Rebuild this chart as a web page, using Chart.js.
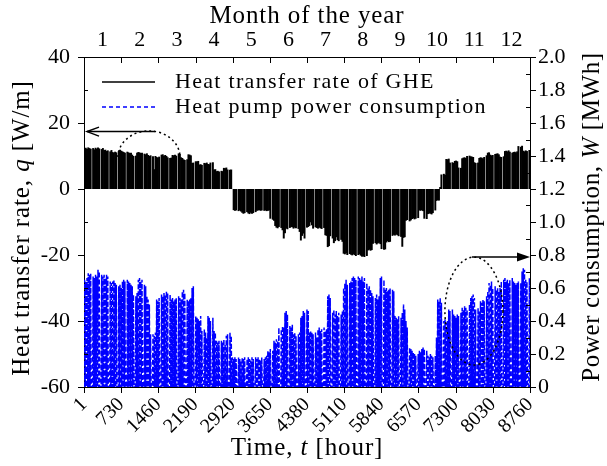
<!DOCTYPE html>
<html>
<head>
<meta charset="utf-8">
<script src="https://cdn.jsdelivr.net/npm/chart.js@4.4.1/dist/chart.umd.min.js"></script>
<style>
  html, body { margin: 0; padding: 0; background: #fff; }
  canvas { display: block; }
</style>
</head>
<body>
<canvas id="chart" width="607" height="466"></canvas>
<script>
// Month labels on the top axis and hour ticks on the bottom axis
const monthLabels = ['1', '2', '3', '4', '5', '6', '7', '8', '9', '10', '11', '12'];
const hourTicks = [1, 730, 1460, 2190, 2920, 3650, 4380, 5110, 5840, 6570, 7300, 8030, 8760];

// Daily peak heat transfer rate of the ground heat exchanger, q [W/m]
// (one row per week, the last day of each week the system is off)
const dailyHeatRate = [
  12.3, 12.5, 12.1, 12.6, 12.4, 12.2, 0,
  12.4, 12.0, 12.5, 12.2, 12.6, 12.3, 0,
  12.1, 12.4, 11.8, 11.9, 11.5, 11.7, 0,
  11.4, 11.8, 11.2, 11.0, 11.3, 11.1, 0,
  11.5, 11.9, 11.6, 11.4, 11.2, 11.0, 0,
  11.3, 11.1, 10.9, 11.0, 10.4, 10.0, 0,
  10.1, 11.0, 11.2, 11.1, 10.9, 11.0, 0,
  10.7, 10.5, 10.8, 10.3, 10.0, 10.2, 0,
  9.9, 6.0, 10.0, 9.7, 9.5, 9.8, 0,
  10.4, 10.5, 10.1, 10.3, 10.0, 9.6, 0,
  9.4, 9.5, 10.3, 10.2, 10.4, 10.1, 0,
  10.8, 10.6, 9.6, 9.4, 9.0, 8.8, 0,
  9.0, 10.5, 10.4, 10.2, 7.9, 8.0, 0,
  8.4, 8.3, 8.5, 7.4, 7.5, 7.3, 0,
  7.9, 7.8, 8.0, 7.6, 7.5, 8.0, 0,
  8.1, 5.9, 6.0, 5.4, 5.5, 5.3, 0,
  5.5, 5.4, 6.4, 6.3, 6.5, 5.9, 0,
  5.8, 5.9, 0, -6.4, -6.6, -6.5, 0,
  -6.7, -6.5, -6.8, -7.2, -7.5, -7.3, 0,
  -7.0, -7.4, -7.6, -7.2, -7.5, -7.3, 0,
  -7.0, -6.6, -6.5, -6.4, -6.6, -6.5, 0,
  -6.6, -6.5, -6.7, -6.6, -6.5, -9.0, 0,
  -9.3, -9.6, -11.2, -11.7, -11.9, -11.5, 0,
  -11.8, -12.5, -15.0, -13.4, -12.0, -12.2, 0,
  -11.8, -11.5, -11.6, -12.0, -11.7, -11.9, 0,
  -12.1, -13.0, -15.6, -14.2, -13.5, -15.0, 0,
  -11.7, -11.5, -11.2, -10.1, -11.0, -12.0, 0,
  -11.6, -11.8, -12.0, -11.7, -11.9, -12.1, 0,
  -11.8, -14.0, -14.2, -17.6, -17.3, -14.3, 0,
  -15.0, -16.4, -15.8, -14.6, -15.5, -15.8, 0,
  -15.4, -16.0, -19.6, -19.8, -19.5, -20.0, 0,
  -19.7, -19.9, -20.1, -19.8, -20.0, -20.3, 0,
  -20.0, -19.8, -20.2, -20.5, -20.4, -20.6, 0,
  -20.3, -18.6, -18.4, -18.7, -18.5, -16.6, 0,
  -16.4, -16.8, -16.5, -16.3, -16.7, -18.2, 0,
  -18.4, -18.3, -16.2, -15.8, -16.1, -16.0, 0,
  -14.2, -13.9, -14.1, -13.8, -14.0, -14.3, 0,
  -14.5, -17.5, -14.8, -14.6, -9.6, -9.4, 0,
  -9.8, -9.5, -9.1, -8.9, -9.2, -9.0, 0,
  -8.8, -6.5, -6.6, -6.4, -6.7, -9.0, 0,
  -9.1, -7.6, -7.4, -7.5, -7.7, -7.3, 0,
  -6.5, -3.6, -3.4, -3.5, 0.6, 4.4, 0,
  4.6, 4.3, 9.1, 9.0, 9.2, 8.0, 0,
  8.1, 7.9, 8.5, 8.6, 8.4, 6.5, 0,
  6.4, 9.3, 9.5, 9.6, 9.4, 10.0, 0,
  10.1, 9.9, 9.8, 9.7, 8.1, 7.9, 0,
  8.0, 9.4, 9.6, 9.5, 9.3, 9.7, 0,
  10.2, 11.0, 11.1, 10.4, 10.2, 10.3, 0,
  10.6, 10.7, 10.8, 10.5, 9.8, 9.7, 0,
  9.9, 11.5, 11.6, 11.4, 11.7, 11.3, 0,
  11.0, 11.2, 11.3, 11.1, 11.4, 13.0, 0,
  12.8, 13.1, 11.6, 11.4, 11.7, 11.5, 0,
  11.8
];

// Daily peak heat pump power consumption, W [MWh]
const dailyPower = [
  0.65, 0.64, 0.66, 0.69, 0.68, 0.69, 0,
  0.67, 0.66, 0.68, 0.67, 0.71, 0.70, 0,
  0.68, 0.67, 0.68, 0.66, 0.68, 0.67, 0,
  0.64, 0.63, 0.64, 0.65, 0.63, 0.62, 0,
  0.61, 0.62, 0.60, 0.64, 0.65, 0.64, 0,
  0.65, 0.64, 0.63, 0.62, 0.61, 0.56, 0,
  0.55, 0.57, 0.65, 0.66, 0.64, 0.65, 0,
  0.62, 0.61, 0.55, 0.53, 0.50, 0.32, 0,
  0.32, 0.31, 0.33, 0.53, 0.52, 0.54, 0,
  0.56, 0.55, 0.57, 0.56, 0.58, 0.57, 0,
  0.56, 0.53, 0.54, 0.52, 0.53, 0.54, 0,
  0.55, 0.54, 0.53, 0.58, 0.59, 0.57, 0,
  0.53, 0.52, 0.53, 0.54, 0.60, 0.61, 0,
  0.43, 0.42, 0.41, 0.40, 0.43, 0.34, 0,
  0.35, 0.33, 0.30, 0.43, 0.42, 0.40, 0,
  0.42, 0.34, 0.33, 0.28, 0.27, 0.28, 0,
  0.28, 0.27, 0.29, 0.26, 0.31, 0.32, 0,
  0.33, 0.31, 0.18, 0.17, 0.18, 0.17, 0,
  0.18, 0.17, 0.16, 0.18, 0.17, 0.18, 0,
  0.17, 0.18, 0.17, 0.16, 0.18, 0.17, 0,
  0.18, 0.17, 0.18, 0.17, 0.16, 0.18, 0,
  0.17, 0.18, 0.19, 0.22, 0.21, 0.23, 0,
  0.22, 0.28, 0.27, 0.29, 0.28, 0.36, 0,
  0.35, 0.37, 0.36, 0.45, 0.46, 0.44, 0,
  0.37, 0.36, 0.38, 0.32, 0.33, 0.31, 0,
  0.32, 0.33, 0.42, 0.43, 0.46, 0.45, 0,
  0.47, 0.46, 0.33, 0.34, 0.33, 0.32, 0,
  0.33, 0.30, 0.35, 0.36, 0.34, 0.35, 0,
  0.36, 0.34, 0.35, 0.55, 0.56, 0.54, 0,
  0.45, 0.47, 0.44, 0.46, 0.43, 0.45, 0,
  0.44, 0.46, 0.60, 0.63, 0.65, 0.62, 0,
  0.63, 0.64, 0.66, 0.67, 0.66, 0.65, 0,
  0.67, 0.66, 0.65, 0.67, 0.64, 0.66, 0,
  0.63, 0.60, 0.61, 0.59, 0.57, 0.55, 0,
  0.54, 0.56, 0.53, 0.55, 0.66, 0.67, 0,
  0.65, 0.59, 0.60, 0.58, 0.59, 0.60, 0,
  0.59, 0.58, 0.43, 0.42, 0.41, 0.43, 0,
  0.42, 0.45, 0.50, 0.47, 0.40, 0.36, 0,
  0.24, 0.23, 0.22, 0.21, 0.20, 0.19, 0,
  0.20, 0.22, 0.21, 0.23, 0.24, 0.23, 0,
  0.22, 0.19, 0.18, 0.20, 0.19, 0.18, 0,
  0.19, 0.30, 0.53, 0.52, 0.54, 0.51, 0,
  0.40, 0.41, 0.39, 0.40, 0.47, 0.46, 0,
  0.47, 0.44, 0.43, 0.42, 0.44, 0.43, 0,
  0.45, 0.48, 0.47, 0.49, 0.48, 0.47, 0,
  0.50, 0.54, 0.55, 0.56, 0.54, 0.47, 0,
  0.48, 0.46, 0.52, 0.51, 0.53, 0.52, 0,
  0.55, 0.58, 0.63, 0.62, 0.64, 0.60, 0,
  0.61, 0.59, 0.60, 0.58, 0.60, 0.64, 0,
  0.65, 0.66, 0.64, 0.65, 0.63, 0.65, 0,
  0.66, 0.64, 0.63, 0.62, 0.63, 0.64, 0,
  0.63, 0.70, 0.72, 0.71, 0.65, 0.64, 0,
  0.66
];

const SERIF = "'Liberation Serif', 'Times New Roman', serif";

// Each day: a bar at midday for q, and an up/down stroke over operating hours for W
const heatRatePoints = dailyHeatRate.map((v, d) => ({ x: d * 24 + 12, y: v }));
const powerPoints = [];
dailyPower.forEach((v, d) => {
  powerPoints.push({ x: d * 24 + 2, y: 0 }, { x: d * 24 + 12, y: v }, { x: d * 24 + 22, y: 0 });
});

// Text with mixed upright / italic runs, centred on (x, y)
function drawRichText(ctx, runs, x, y, size, rotation, spacing) {
  ctx.save();
  ctx.translate(x, y);
  ctx.rotate(rotation || 0);
  ctx.textBaseline = 'middle';
  ctx.textAlign = 'left';
  ctx.fillStyle = '#000';
  if ('letterSpacing' in ctx) ctx.letterSpacing = (spacing || 0) + 'px';
  let total = 0;
  const widths = runs.map(r => {
    ctx.font = (r.italic ? 'italic ' : '') + size + 'px ' + SERIF;
    const w = ctx.measureText(r.text).width;
    total += w;
    return w;
  });
  let cx = -total / 2;
  runs.forEach((r, i) => {
    ctx.font = (r.italic ? 'italic ' : '') + size + 'px ' + SERIF;
    ctx.fillText(r.text, cx, 0);
    cx += widths[i];
  });
  ctx.restore();
}

// Axis titles
const axisTitles = {
  id: 'axisTitles',
  afterDraw(chart) {
    const { ctx, chartArea: a } = chart;
    const midX = (a.left + a.right) / 2;
    drawRichText(ctx, [{ text: 'Month of the year' }], midX, 16, 25, 0, 0.9);
    drawRichText(ctx, [{ text: 'Time, ' }, { text: 't', italic: true }, { text: ' [hour]' }], midX, 448, 25, 0, 0.9);
    drawRichText(ctx, [{ text: 'Heat transfer rate, ' }, { text: 'q', italic: true }, { text: ' [W/m]' }],
      22, 228, 25, -Math.PI / 2, 0.9);
    drawRichText(ctx, [{ text: 'Power consumption, ' }, { text: 'W', italic: true }, { text: ' [MWh]' }],
      592, 217, 25, -Math.PI / 2, 0.6);
  }
};

// Tick marks on all four sides
const tickMarks = {
  id: 'tickMarks',
  afterDraw(chart) {
    const { ctx, chartArea: a, scales } = chart;
    ctx.save();
    ctx.strokeStyle = '#000';
    ctx.lineWidth = 1;
    const seg = (x1, y1, x2, y2) => { ctx.beginPath(); ctx.moveTo(x1, y1); ctx.lineTo(x2, y2); ctx.stroke(); };
    // left axis: majors every 20, minors every 10
    for (let v = -60; v <= 40; v += 10) {
      const y = Math.round(scales.yQ.getPixelForValue(v)) + 0.5;
      const major = v % 20 === 0;
      seg(a.left - (major ? 6 : 0), y, a.left + (major ? 0 : 4), y);
    }
    // right axis: majors every 0.2, minors every 0.1
    for (let i = 0; i <= 20; i++) {
      const y = Math.round(scales.yW.getPixelForValue(i / 10)) + 0.5;
      const major = i % 2 === 0;
      seg(a.right + (major ? 6 : 0), y, a.right - (major ? 0 : 4), y);
    }
    // bottom axis
    hourTicks.forEach(h => {
      const x = Math.round(scales.x.getPixelForValue(h)) + 0.5;
      seg(x, a.bottom, x, a.bottom + 6);
    });
    // top axis: month boundaries
    const m = scales.xMonth;
    for (let i = 1; i < monthLabels.length; i++) {
      const x = Math.round((m.getPixelForValue(i - 1) + m.getPixelForValue(i)) / 2) + 0.5;
      seg(x, a.top, x, a.top + 6);
    }
    ctx.restore();
  }
};

// Legend inside the plot, top left
const innerLegend = {
  id: 'innerLegend',
  afterDraw(chart) {
    const { ctx, chartArea: a } = chart;
    ctx.save();
    const x0 = a.left + 18, x1 = a.left + 71, tx = a.left + 91;
    const rows = [
      { y: a.top + 25, color: '#000', dash: [], label: 'Heat transfer rate of GHE' },
      { y: a.top + 50, color: '#0000ff', dash: [4, 3], label: 'Heat pump power consumption' }
    ];
    rows.forEach(r => {
      ctx.strokeStyle = r.color;
      ctx.lineWidth = 1.5;
      ctx.setLineDash(r.dash);
      ctx.beginPath(); ctx.moveTo(x0, r.y); ctx.lineTo(x1, r.y); ctx.stroke();
      ctx.setLineDash([]);
      ctx.fillStyle = '#000';
      ctx.font = '22px ' + SERIF;
      if ('letterSpacing' in ctx) ctx.letterSpacing = '1.3px';
      ctx.textBaseline = 'middle';
      ctx.textAlign = 'left';
      ctx.fillText(r.label, tx, r.y);
    });
    ctx.restore();
  }
};

// Arrows and dotted loops pointing each series to its axis (placed in data units)
const axisPointers = {
  id: 'axisPointers',
  afterDatasetsDraw(chart) {
    const { ctx, scales } = chart;
    const X = scales.x, Q = scales.yQ, W = scales.yW;
    ctx.save();
    ctx.strokeStyle = '#000';
    ctx.fillStyle = '#000';

    // left: arrow to the q axis
    const ly = Q.getPixelForValue(17.4);
    const lx1 = X.getPixelForValue(1394), lx2 = X.getPixelForValue(60);
    ctx.lineWidth = 1.5;
    ctx.beginPath(); ctx.moveTo(lx1, ly); ctx.lineTo(lx2, ly); ctx.stroke();
    ctx.beginPath(); ctx.moveTo(lx2 + 12, ly - 4.5); ctx.lineTo(lx2, ly); ctx.lineTo(lx2 + 12, ly + 4.5); ctx.stroke();
    // left dotted arc
    const lcx = X.getPixelForValue(1277), lcy = Q.getPixelForValue(9.7);
    const lrx = X.getPixelForValue(1277 + 609) - lcx, lry = lcy - Q.getPixelForValue(9.7 + 7.9);
    ctx.setLineDash([2, 3]);
    ctx.lineWidth = 1.5;
    ctx.beginPath(); ctx.ellipse(lcx, lcy, lrx, lry, 0, Math.PI, 2 * Math.PI); ctx.stroke();

    // right: arrow to the W axis
    const ry = W.getPixelForValue(0.788);
    const rx1 = X.getPixelForValue(7620), rx2 = X.getPixelForValue(8760);
    ctx.setLineDash([]);
    ctx.lineWidth = 1.5;
    ctx.beginPath(); ctx.moveTo(rx1, ry); ctx.lineTo(rx2 - 10, ry); ctx.stroke();
    ctx.beginPath(); ctx.moveTo(rx2, ry); ctx.lineTo(rx2 - 13, ry - 4.5); ctx.lineTo(rx2 - 13, ry + 4.5); ctx.closePath(); ctx.fill();
    // right dotted loop
    const rcx = X.getPixelForValue(7659), rcy = W.getPixelForValue(0.46);
    const rrx = X.getPixelForValue(7659 + 570) - rcx, rry = rcy - W.getPixelForValue(0.46 + 0.327);
    ctx.setLineDash([2, 3]);
    ctx.beginPath(); ctx.ellipse(rcx, rcy, rrx, rry, 0, 0, 2 * Math.PI); ctx.stroke();
    ctx.restore();
  }
};

new Chart(document.getElementById('chart'), {
  type: 'line',
  data: {
    datasets: [
      {
        type: 'bar',
        label: 'Heat transfer rate of GHE',
        data: heatRatePoints,
        xAxisID: 'x',
        yAxisID: 'yQ',
        backgroundColor: '#000',
        borderWidth: 0,
        barPercentage: 1.6,
        categoryPercentage: 1
      },
      {
        type: 'line',
        label: 'Heat pump power consumption',
        data: powerPoints,
        xAxisID: 'x',
        yAxisID: 'yW',
        borderColor: '#0000ff',
        borderWidth: 1.5,
        borderDash: [5, 2],
        pointRadius: 0,
        tension: 0,
        fill: false
      }
    ]
  },
  options: {
    responsive: false,
    animation: false,
    devicePixelRatio: 1,
    layout: { padding: 0 },
    plugins: { legend: { display: false }, tooltip: { enabled: false } },
    scales: {
      x: {
        type: 'linear',
        position: 'bottom',
        min: 1,
        max: 8760,
        offset: false,
        afterBuildTicks: s => { s.ticks = hourTicks.map(v => ({ value: v })); },
        afterFit: s => { s.height = 79; },
        grid: { display: false, drawTicks: false },
        border: { display: true, color: '#000', width: 1 },
        ticks: {
          autoSkip: false,
          minRotation: 45,
          maxRotation: 45,
          padding: 6,
          color: '#000',
          font: { family: SERIF, size: 20 },
          callback: v => String(v)
        }
      },
      xMonth: {
        type: 'category',
        position: 'top',
        labels: monthLabels,
        offset: true,
        afterFit: s => { s.height = 57; },
        grid: { display: false, drawTicks: false, offset: true },
        border: { display: true, color: '#000', width: 1 },
        ticks: { autoSkip: false, maxRotation: 0, padding: 4, color: '#000', font: { family: SERIF, size: 22 } }
      },
      yQ: {
        type: 'linear',
        position: 'left',
        min: -60,
        max: 40,
        afterFit: s => { s.width = 84; },
        grid: { display: false, drawTicks: false },
        border: { display: true, color: '#000', width: 1 },
        ticks: { stepSize: 20, padding: 14, color: '#000', font: { family: SERIF, size: 22 } }
      },
      yW: {
        type: 'linear',
        position: 'right',
        min: 0,
        max: 2,
        afterFit: s => { s.width = 77; },
        grid: { display: false, drawTicks: false },
        border: { display: true, color: '#000', width: 1 },
        ticks: {
          stepSize: 0.2,
          padding: 8,
          color: '#000',
          font: { family: SERIF, size: 22 },
          callback: v => (Math.abs(v) < 1e-9 ? '0' : Number(v).toFixed(1))
        }
      }
    }
  },
  plugins: [axisPointers, tickMarks, innerLegend, axisTitles]
});
</script>
</body>
</html>
